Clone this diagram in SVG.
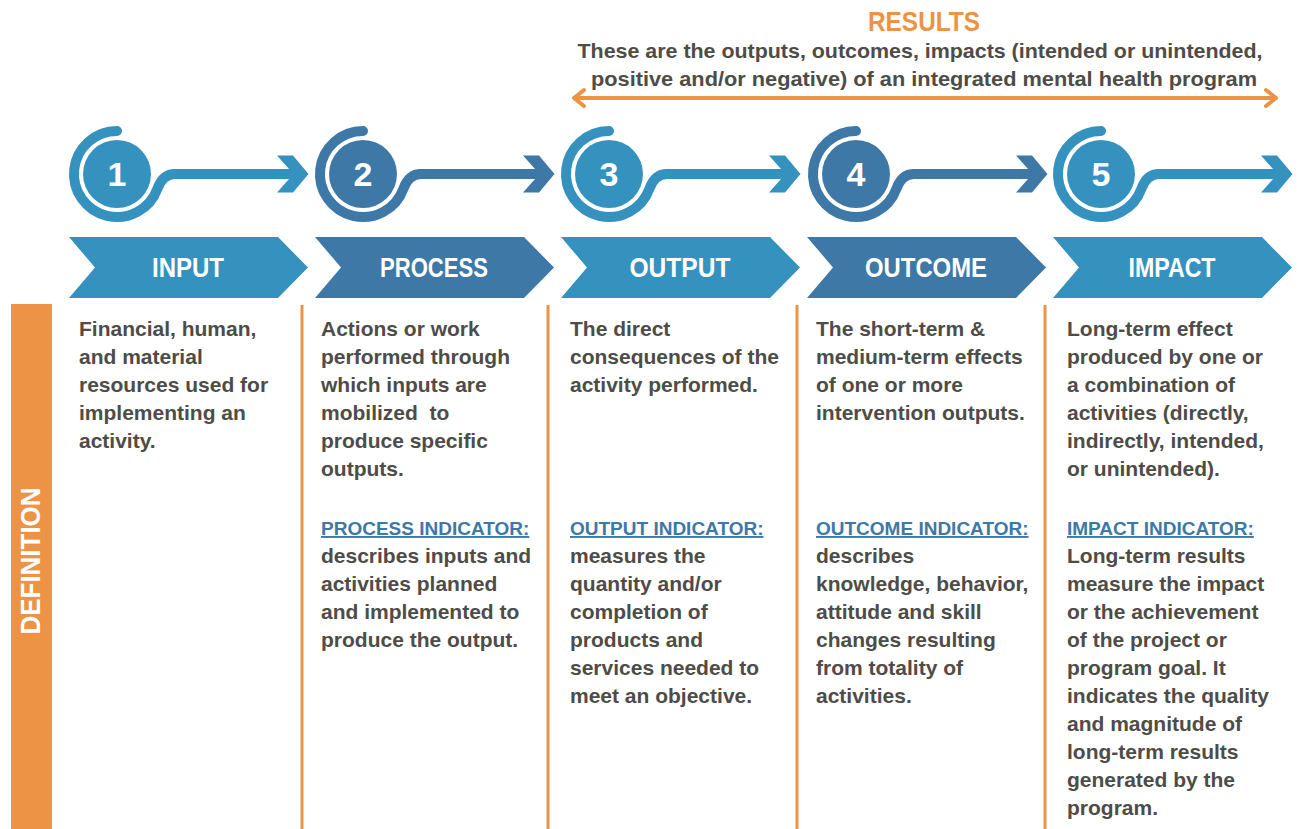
<svg xmlns="http://www.w3.org/2000/svg" xmlns:xlink="http://www.w3.org/1999/xlink" width="1301" height="829" viewBox="0 0 1301 829">
<defs>
<style>
.lt{color:#3592be}
.dk{color:#3e78a7}
.ring{fill:none;stroke:currentColor;stroke-width:10;stroke-linecap:round}
.disc{fill:currentColor}
.num{font-family:"Liberation Sans",Arial,sans-serif;font-weight:bold;font-size:34px;fill:#fff;text-anchor:middle}
.chev{fill:currentColor}
.chevt{font-family:"Liberation Sans",Arial,sans-serif;font-weight:bold;font-size:27px;fill:#fff;text-anchor:middle}
.cline{fill:none;stroke:currentColor;stroke-width:10}
.chead{fill:currentColor}
.body{font-family:"Liberation Sans",Arial,sans-serif;font-weight:bold;font-size:21px;fill:#4e4c47}
.sub{font-family:"Liberation Sans",Arial,sans-serif;font-weight:bold;font-size:21px;fill:#4e4c47;text-anchor:middle}
.ind{font-family:"Liberation Sans",Arial,sans-serif;font-weight:bold;font-size:19px;fill:#3e78a7;text-decoration:underline}
.div{stroke:#ec9345;stroke-width:3}
.org{stroke:#ec9345;stroke-width:4;fill:none;stroke-linecap:round;stroke-linejoin:round}
</style>
<path id="ringp" d="M0,-43 A43,43 0 1 0 40.4,14.7 Q45.8,0 58,0"/>
<polygon id="headp" points="160,-18.5 176,-18.5 191.5,0 176,18.5 160,18.5 172,5 172,-5"/>
<polygon id="chevp" points="0,0 209,0 239,30.5 209,61 0,61 26,30.5"/>
</defs>
<rect width="1301" height="829" fill="#fff"/>

<g id="results-header">
<text x="924" y="31" font-family="Liberation Sans,Arial,sans-serif" font-weight="bold" font-size="28" fill="#ec9345" text-anchor="middle" textLength="112" lengthAdjust="spacingAndGlyphs">RESULTS</text>
<text x="920" y="58" class="sub" textLength="685" lengthAdjust="spacingAndGlyphs">These are the outputs, outcomes, impacts (intended or unintended,</text>
<text x="924" y="86" class="sub" textLength="666" lengthAdjust="spacingAndGlyphs">positive and/or negative) of an integrated mental health program</text>
<path class="org" d="M574,98 L1276,98 M584,90 L574,98 L584,106 M1266,90 L1276,98 L1266,106"/>
</g>

<g id="connectors">
<g class="lt" transform="translate(117,174)"><path class="cline" d="M56,0 L174,0"/><use href="#headp" class="chead"/></g>
<g class="dk" transform="translate(363,174)"><path class="cline" d="M56,0 L174,0"/><use href="#headp" class="chead"/></g>
<g class="lt" transform="translate(609,174)"><path class="cline" d="M56,0 L174,0"/><use href="#headp" class="chead"/></g>
<g class="dk" transform="translate(856,174)"><path class="cline" d="M56,0 L174,0"/><use href="#headp" class="chead"/></g>
<g class="lt" transform="translate(1101,174)"><path class="cline" d="M56,0 L174,0"/><use href="#headp" class="chead"/></g>
</g>

<g id="step1" class="lt" transform="translate(117,174)"><use href="#ringp" class="ring"/><circle r="34" class="disc"/><text y="12" class="num">1</text></g>
<g id="step2" class="dk" transform="translate(363,174)"><use href="#ringp" class="ring"/><circle r="34" class="disc"/><text y="12" class="num">2</text></g>
<g id="step3" class="lt" transform="translate(609,174)"><use href="#ringp" class="ring"/><circle r="34" class="disc"/><text y="12" class="num">3</text></g>
<g id="step4" class="dk" transform="translate(856,174)"><use href="#ringp" class="ring"/><circle r="34" class="disc"/><text y="12" class="num">4</text></g>
<g id="step5" class="lt" transform="translate(1101,174)"><use href="#ringp" class="ring"/><circle r="34" class="disc"/><text y="12" class="num">5</text></g>

<g id="chev-input" class="lt" transform="translate(69,237)"><use href="#chevp" class="chev"/><text x="119" y="40" class="chevt" textLength="72" lengthAdjust="spacingAndGlyphs">INPUT</text></g>
<g id="chev-process" class="dk" transform="translate(315,237)"><use href="#chevp" class="chev"/><text x="119" y="40" class="chevt" textLength="108" lengthAdjust="spacingAndGlyphs">PROCESS</text></g>
<g id="chev-output" class="lt" transform="translate(561,237)"><use href="#chevp" class="chev"/><text x="119" y="40" class="chevt" textLength="101" lengthAdjust="spacingAndGlyphs">OUTPUT</text></g>
<g id="chev-outcome" class="dk" transform="translate(807,237)"><use href="#chevp" class="chev"/><text x="119" y="40" class="chevt" textLength="122" lengthAdjust="spacingAndGlyphs">OUTCOME</text></g>
<g id="chev-impact" class="lt" transform="translate(1053,237)"><use href="#chevp" class="chev"/><text x="119" y="40" class="chevt" textLength="87" lengthAdjust="spacingAndGlyphs">IMPACT</text></g>

<g id="definition-bar">
<rect x="11" y="304" width="41" height="525" fill="#ec9345"/>
<text transform="translate(40,561) rotate(-90)" font-family="Liberation Sans,Arial,sans-serif" font-weight="bold" font-size="27" fill="#fff" text-anchor="middle" textLength="147" lengthAdjust="spacingAndGlyphs">DEFINITION</text>
</g>

<g id="dividers">
<line class="div" x1="302" y1="305" x2="302" y2="829"/>
<line class="div" x1="548" y1="305" x2="548" y2="829"/>
<line class="div" x1="797" y1="305" x2="797" y2="829"/>
<line class="div" x1="1045" y1="305" x2="1045" y2="829"/>
</g>

<g id="col-input">
<text class="body" x="79" y="336">Financial, human,</text>
<text class="body" x="79" y="364">and material</text>
<text class="body" x="79" y="392">resources used for</text>
<text class="body" x="79" y="420">implementing an</text>
<text class="body" x="79" y="448">activity.</text>
</g>

<g id="col-process">
<text class="body" x="321" y="336">Actions or work</text>
<text class="body" x="321" y="364">performed through</text>
<text class="body" x="321" y="392">which inputs are</text>
<text class="body" x="321" y="420" xml:space="preserve">mobilized  to</text>
<text class="body" x="321" y="448">produce specific</text>
<text class="body" x="321" y="476">outputs.</text>
<text class="ind" x="321" y="535">PROCESS INDICATOR:</text>
<text class="body" x="321" y="563">describes inputs and</text>
<text class="body" x="321" y="591">activities planned</text>
<text class="body" x="321" y="619">and implemented to</text>
<text class="body" x="321" y="647">produce the output.</text>
</g>

<g id="col-output">
<text class="body" x="570" y="336">The direct</text>
<text class="body" x="570" y="364">consequences of the</text>
<text class="body" x="570" y="392">activity performed.</text>
<text class="ind" x="570" y="535">OUTPUT INDICATOR:</text>
<text class="body" x="570" y="563">measures the</text>
<text class="body" x="570" y="591">quantity and/or</text>
<text class="body" x="570" y="619">completion of</text>
<text class="body" x="570" y="647">products and</text>
<text class="body" x="570" y="675">services needed to</text>
<text class="body" x="570" y="703">meet an objective.</text>
</g>

<g id="col-outcome">
<text class="body" x="816" y="336">The short-term &amp;</text>
<text class="body" x="816" y="364">medium-term effects</text>
<text class="body" x="816" y="392">of one or more</text>
<text class="body" x="816" y="420">intervention outputs.</text>
<text class="ind" x="816" y="535">OUTCOME INDICATOR:</text>
<text class="body" x="816" y="563">describes</text>
<text class="body" x="816" y="591">knowledge, behavior,</text>
<text class="body" x="816" y="619">attitude and skill</text>
<text class="body" x="816" y="647">changes resulting</text>
<text class="body" x="816" y="675">from totality of</text>
<text class="body" x="816" y="703">activities.</text>
</g>

<g id="col-impact">
<text class="body" x="1067" y="336">Long-term effect</text>
<text class="body" x="1067" y="364">produced by one or</text>
<text class="body" x="1067" y="392">a combination of</text>
<text class="body" x="1067" y="420">activities (directly,</text>
<text class="body" x="1067" y="448">indirectly, intended,</text>
<text class="body" x="1067" y="476">or unintended).</text>
<text class="ind" x="1067" y="535">IMPACT INDICATOR:</text>
<text class="body" x="1067" y="563">Long-term results</text>
<text class="body" x="1067" y="591">measure the impact</text>
<text class="body" x="1067" y="619">or the achievement</text>
<text class="body" x="1067" y="647">of the project or</text>
<text class="body" x="1067" y="675">program goal. It</text>
<text class="body" x="1067" y="703">indicates the quality</text>
<text class="body" x="1067" y="731">and magnitude of</text>
<text class="body" x="1067" y="759">long-term results</text>
<text class="body" x="1067" y="787">generated by the</text>
<text class="body" x="1067" y="815">program.</text>
</g>
</svg>
